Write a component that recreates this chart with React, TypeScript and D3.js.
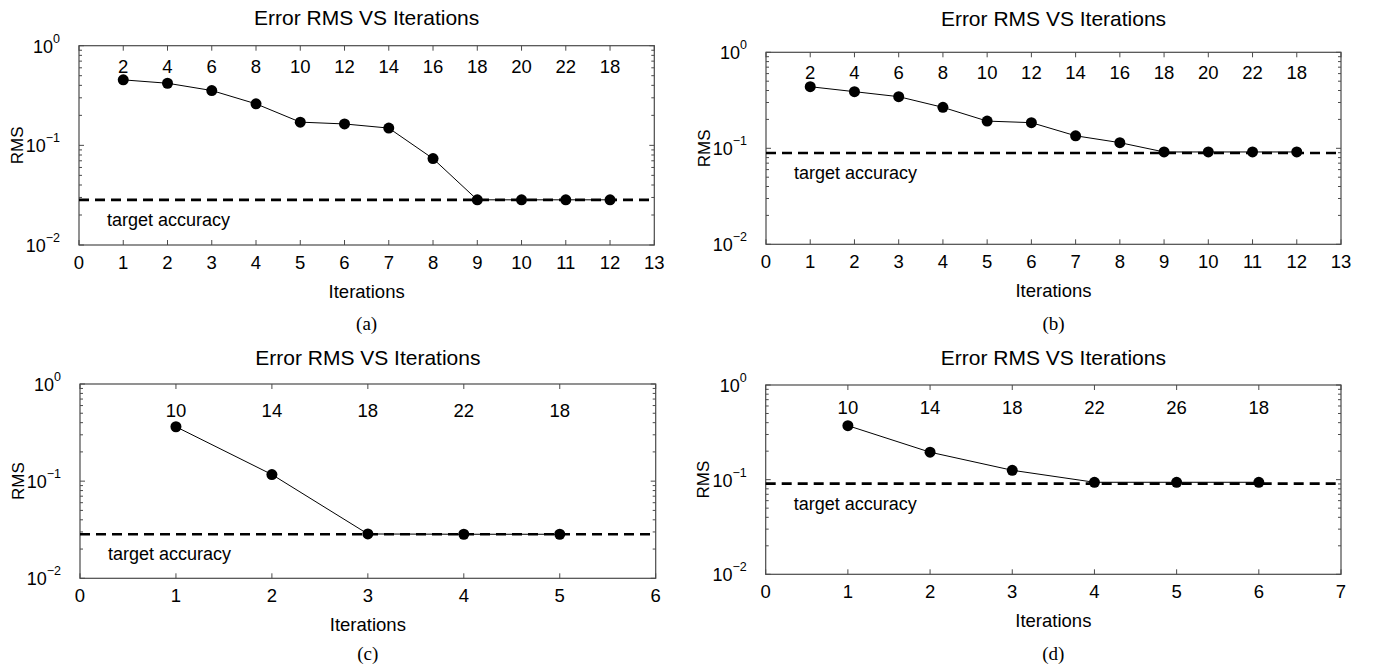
import React from "react";
import * as d3 from "d3";

// ---------- data ----------
const ITER_A = [1, 2, 3, 4, 5, 6, 7, 8, 9, 10, 11, 12];
const RMS_A = [0.454, 0.42, 0.355, 0.261, 0.171, 0.164, 0.149, 0.0736, 0.0284, 0.0284, 0.0284, 0.0284];
const LABELS_A = ["2", "4", "6", "8", "10", "12", "14", "16", "18", "20", "22", "18"];
const TARGET_A = 0.0284;
const XMAX_A = 13;

const ITER_B = [1, 2, 3, 4, 5, 6, 7, 8, 9, 10, 11, 12];
const RMS_B = [0.438, 0.389, 0.345, 0.267, 0.192, 0.185, 0.135, 0.1145, 0.0916, 0.0916, 0.0916, 0.0916];
const LABELS_B = ["2", "4", "6", "8", "10", "12", "14", "16", "18", "20", "22", "18"];
const TARGET_B = 0.0893;
const XMAX_B = 13;

const ITER_C = [1, 2, 3, 4, 5];
const RMS_C = [0.363, 0.117, 0.0286, 0.0284, 0.0284];
const LABELS_C = ["10", "14", "18", "22", "18"];
const TARGET_C = 0.0284;
const XMAX_C = 6;

const ITER_D = [1, 2, 3, 4, 5, 6];
const RMS_D = [0.372, 0.195, 0.1256, 0.0938, 0.0938, 0.0938];
const LABELS_D = ["10", "14", "18", "22", "26", "18"];
const TARGET_D = 0.0908;
const XMAX_D = 7;

const Y_DOMAIN = [0.01, 1];
const Y_TICKS = [1, 0.1, 0.01];
const Y_TICK_EXP = ["0", "\u22121", "\u22122"];
const TITLE = "Error RMS VS Iterations";
const X_LABEL = "Iterations";
const Y_LABEL = "RMS";
const TARGET_LABEL = "target accuracy";

// ---------- layout ----------
const SANS = "'Liberation Sans', Arial, Helvetica, sans-serif";
const SERIF = "'Liberation Serif', 'Times New Roman', serif";

type Layout = { left: number; top: number; right: number; bottom: number; titleY: number; labelY: number; captionY: number };

const panels = [
  { iter: ITER_A, rms: RMS_A, labels: LABELS_A, target: TARGET_A, xmax: XMAX_A, caption: "(a)",
    lay: { left: 79, top: 45.7, right: 654.3, bottom: 245, titleY: 17.5, labelY: 66, captionY: 323 } },
  { iter: ITER_B, rms: RMS_B, labels: LABELS_B, target: TARGET_B, xmax: XMAX_B, caption: "(b)",
    lay: { left: 766, top: 52.3, right: 1341, bottom: 244.3, titleY: 18.5, labelY: 72, captionY: 323 } },
  { iter: ITER_C, rms: RMS_C, labels: LABELS_C, target: TARGET_C, xmax: XMAX_C, caption: "(c)",
    lay: { left: 80, top: 384, right: 655.7, bottom: 578.3, titleY: 357, labelY: 410, captionY: 653.5 } },
  { iter: ITER_D, rms: RMS_D, labels: LABELS_D, target: TARGET_D, xmax: XMAX_D, caption: "(d)",
    lay: { left: 765.7, top: 385, right: 1341, bottom: 574.3, titleY: 357, labelY: 407, captionY: 653.5 } },
];

function Panel({ p }: { p: (typeof panels)[number] }) {
  const l: Layout = p.lay;
  const x = d3.scaleLinear().domain([0, p.xmax]).range([l.left, l.right]);
  const y = d3.scaleLog().domain(Y_DOMAIN).range([l.bottom, l.top]);
  const xTicks = d3.range(0, p.xmax + 1);
  const minor: number[] = [];
  [0.01, 0.1].forEach((dec) => {
    for (let k = 2; k <= 9; k++) minor.push(dec * k);
  });
  const line = d3
    .line<number>()
    .x((_, i) => x(p.iter[i]))
    .y((v) => y(v));
  const cx = (l.left + l.right) / 2;
  const cy = (l.top + l.bottom) / 2;
  const ty = y(p.target);
  const frame = "#4a4a4a";
  return (
    <g>
      <text x={cx} y={l.titleY} textAnchor="middle" dominantBaseline="central" fontFamily={SANS} fontSize={21}>
        {TITLE}
      </text>
      {/* ticks */}
      {xTicks.map((t) => (
        <g key={"xt" + t} stroke={frame} strokeWidth={1}>
          <line x1={x(t)} x2={x(t)} y1={l.bottom} y2={l.bottom - 5} />
          <line x1={x(t)} x2={x(t)} y1={l.top} y2={l.top + 5} />
        </g>
      ))}
      {Y_TICKS.map((t) => (
        <g key={"yt" + t} stroke={frame} strokeWidth={1}>
          <line x1={l.left} x2={l.left + 5} y1={y(t)} y2={y(t)} />
          <line x1={l.right} x2={l.right - 5} y1={y(t)} y2={y(t)} />
        </g>
      ))}
      {minor.map((t) => (
        <g key={"ym" + t} stroke={frame} strokeWidth={1}>
          <line x1={l.left} x2={l.left + 3} y1={y(t)} y2={y(t)} />
          <line x1={l.right} x2={l.right - 3} y1={y(t)} y2={y(t)} />
        </g>
      ))}
      <rect x={l.left} y={l.top} width={l.right - l.left} height={l.bottom - l.top} fill="none" stroke={frame} strokeWidth={1.2} />
      {/* tick labels */}
      {xTicks.map((t) => (
        <text key={"xl" + t} x={x(t)} y={l.bottom + 17} textAnchor="middle" dominantBaseline="central" fontFamily={SANS} fontSize={18.5}>
          {t}
        </text>
      ))}
      {Y_TICKS.map((t, i) => (
        <text key={"yl" + t} x={l.left - 19} y={y(t) + 7} textAnchor="end" fontFamily={SANS} fontSize={18}>
          10
          <tspan dy={-10} fontSize={12.5}>
            {Y_TICK_EXP[i]}
          </tspan>
        </text>
      ))}
      <text x={cx} y={l.bottom + 46} textAnchor="middle" dominantBaseline="central" fontFamily={SANS} fontSize={18.5}>
        {X_LABEL}
      </text>
      <text
        transform={`translate(${l.left - 62},${cy}) rotate(-90)`}
        textAnchor="middle"
        dominantBaseline="central"
        fontFamily={SANS}
        fontSize={17}
      >
        {Y_LABEL}
      </text>
      <text x={cx} y={l.captionY} textAnchor="middle" dominantBaseline="central" fontFamily={SERIF} fontSize={19}>
        {p.caption}
      </text>
      {/* target line */}
      <line x1={l.left} x2={l.right} y1={ty} y2={ty} stroke="#000" strokeWidth={2.6} strokeDasharray="10,6" />
      <text x={l.left + 28} y={ty + 20} dominantBaseline="central" fontFamily={SANS} fontSize={18}>
        {TARGET_LABEL}
      </text>
      {/* data */}
      <path d={line(p.rms) || ""} fill="none" stroke="#000" strokeWidth={1} />
      {p.rms.map((v, i) => (
        <circle key={"c" + i} cx={x(p.iter[i])} cy={y(v)} r={5.5} fill="#000" />
      ))}
      {p.labels.map((s, i) => (
        <text key={"lb" + i} x={x(p.iter[i])} y={l.labelY} textAnchor="middle" dominantBaseline="central" fontFamily={SANS} fontSize={18.5}>
          {s}
        </text>
      ))}
    </g>
  );
}

export default function App() {
  return (
    <svg width={1374} height={666} style={{ position: "absolute", left: 0, top: 0, background: "#fff" }}>
      <rect width={1374} height={666} fill="#fff" />
      {panels.map((p, i) => (
        <Panel key={i} p={p} />
      ))}
    </svg>
  );
}
